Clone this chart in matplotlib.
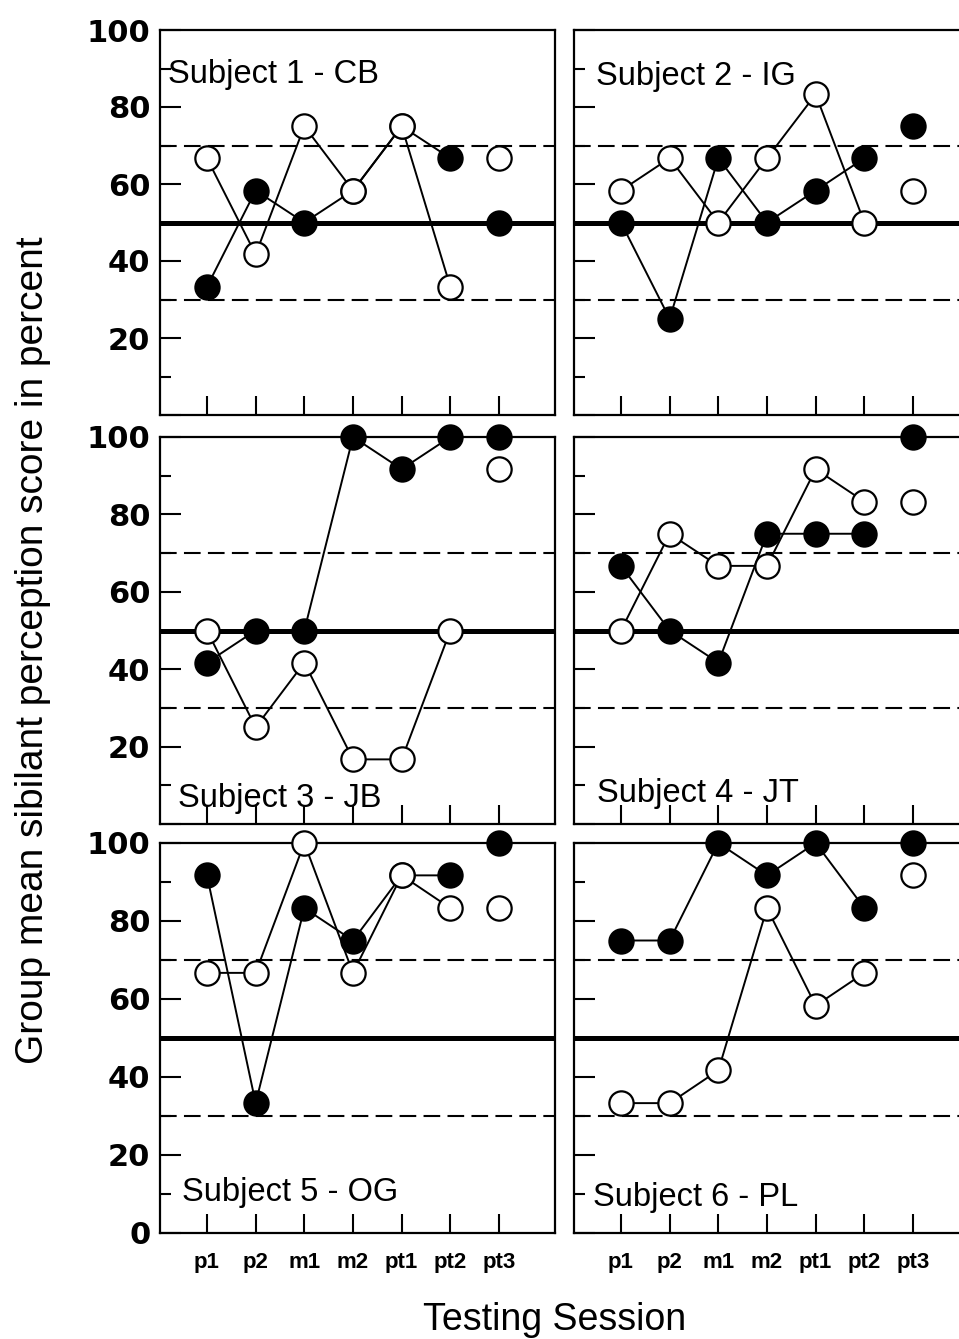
import matplotlib
matplotlib.use("Agg")
import matplotlib.pyplot as plt
from matplotlib.ticker import FixedLocator

plt.rcParams['font.family'] = ['Liberation Sans', 'DejaVu Sans']

sessions = ['p1', 'p2', 'm1', 'm2', 'pt1', 'pt2', 'pt3']
subjects = ['Subject 1 - CB', 'Subject 2 - IG', 'Subject 3 - JB',
            'Subject 4 - JT', 'Subject 5 - OG', 'Subject 6 - PL']

# filled circles / open circles, one value per session (pt3 is not joined)
filled_s1 = [33.3, 58.3, 50.0, 58.3, 75.0, 66.7, 50.0]
open_s1 = [66.7, 41.7, 75.0, 58.3, 75.0, 33.3, 66.7]
filled_s2 = [50.0, 25.0, 66.7, 50.0, 58.3, 66.7, 75.0]
open_s2 = [58.3, 66.7, 50.0, 66.7, 83.3, 50.0, 58.3]
filled_s3 = [41.7, 50.0, 50.0, 100.0, 91.7, 100.0, 100.0]
open_s3 = [50.0, 25.0, 41.7, 16.7, 16.7, 50.0, 91.7]
filled_s4 = [66.7, 50.0, 41.7, 75.0, 75.0, 75.0, 100.0]
open_s4 = [50.0, 75.0, 66.7, 66.7, 91.7, 83.3, 83.3]
filled_s5 = [91.7, 33.3, 83.3, 75.0, 91.7, 91.7, 100.0]
open_s5 = [66.7, 66.7, 100.0, 66.7, 91.7, 83.3, 83.3]
filled_s6 = [75.0, 75.0, 100.0, 91.7, 100.0, 83.3, 100.0]
open_s6 = [33.3, 33.3, 41.7, 83.3, 58.3, 66.7, 91.7]

filled = [filled_s1, filled_s2, filled_s3, filled_s4, filled_s5, filled_s6]
opened = [open_s1, open_s2, open_s3, open_s4, open_s5, open_s6]

chance = 50
bounds = [30, 70]

# label placement inside each panel (axes fraction)
label_pos = [(0.02, 0.885), (0.055, 0.88), (0.045, 0.065),
             (0.058, 0.08), (0.056, 0.103), (0.048, 0.09)]

fig = plt.figure(figsize=(9.59, 13.39), dpi=100)

W, H = 959, 1339
cols = [160, 574]
rows = [(30, 415), (437, 824), (843, 1233)]
width = 395

x = list(range(1, len(sessions) + 1))

for i in range(6):
    r, c = divmod(i, 2)
    top, bot = rows[r]
    ax = fig.add_axes([cols[c] / W, 1 - bot / H, width / W, (bot - top) / H])
    ax.set_xlim(0.035, 8.15)
    ax.set_ylim(0, 100)

    ax.axhline(chance, color='black', lw=3.6, zorder=1)
    for b in bounds:
        ax.axhline(b, color='black', lw=1.5, ls=(0, (8, 3.5)), zorder=1)

    f = filled[i]
    o = opened[i]
    ax.plot(x[:6], f[:6], color='black', lw=1.4, zorder=2)
    ax.plot(x[:6], o[:6], color='black', lw=1.4, zorder=2)
    ax.plot(x, f, ls='none', marker='o', ms=17.5, mfc='black', mec='black',
            mew=1.5, zorder=3, clip_on=False)
    ax.plot(x, o, ls='none', marker='o', ms=17.5, mfc='white', mec='black',
            mew=1.6, zorder=4, clip_on=False)

    ax.text(label_pos[i][0], label_pos[i][1], subjects[i], transform=ax.transAxes,
            fontsize=23.5, va='center', ha='left', zorder=5)

    for sp in ax.spines.values():
        sp.set_linewidth(1.6)

    ax.xaxis.set_major_locator(FixedLocator(x))
    ax.yaxis.set_major_locator(FixedLocator([0, 20, 40, 60, 80, 100]))
    ax.yaxis.set_minor_locator(FixedLocator([10, 30, 50, 70, 90]))
    ax.tick_params(axis='x', direction='in', length=14, width=1.5, pad=14,
                   labelsize=16, top=False)
    ax.tick_params(axis='y', which='major', direction='in', length=15, width=1.5,
                   pad=7, labelsize=22, right=False)
    ax.tick_params(axis='y', which='minor', direction='in', length=8, width=1.5,
                   right=False)

    if r == 2:
        ax.set_xticklabels(sessions, fontweight='bold')
    else:
        ax.set_xticklabels([])
    if c == 0:
        if r == 2:
            ax.set_yticklabels(['0', '20', '40', '60', '80', '100'])
        else:
            ax.set_yticklabels(['', '20', '40', '60', '80', '100'])
        for lab in ax.get_yticklabels():
            lab.set_family('DejaVu Sans')
            lab.set_fontweight('bold')
    else:
        ax.set_yticklabels([])

fig.text(33 / W, 1 - 650 / H, 'Group mean sibilant perception score in percent',
         rotation=90, ha='center', va='center', fontsize=28)
fig.text(555 / W, 1 - 1320 / H, 'Testing Session', ha='center', va='center',
         fontsize=27)

fig.savefig('out.png', dpi=100)
